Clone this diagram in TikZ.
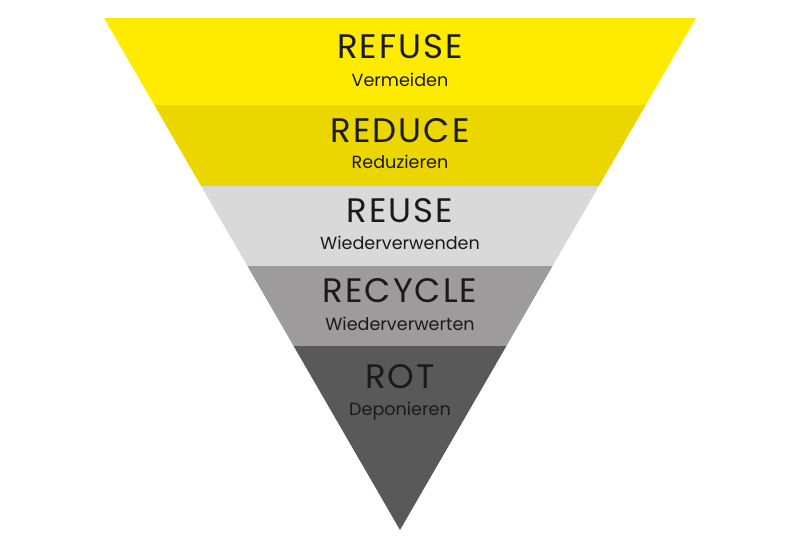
\documentclass[tikz,border=0pt]{standalone}
\usepackage{fontspec}
\setmainfont{Poppins}
\newfontfamily\titlefont[LetterSpace=6]{Poppins}
\usepackage{tikz}
\usetikzlibrary{positioning}

\definecolor{refuseyellow}{HTML}{FFEB00}
\definecolor{reduceyellow}{HTML}{EBD600}
\definecolor{reusegray}{HTML}{D9D9D9}
\definecolor{recyclegray}{HTML}{9D9B9C}
\definecolor{rotgray}{HTML}{595959}
\definecolor{labeltext}{HTML}{1A1A1A}

\tikzset{
  title/.style={anchor=base,text=labeltext,font=\titlefont\fontsize{29}{29}\selectfont},
  subtitle/.style={anchor=base,text=labeltext,font=\fontsize{15}{15}\selectfont}
}

\begin{document}
\begin{tikzpicture}[x=0.03cm,y=-0.03cm]
\useasboundingbox[fill=white] (0,0) rectangle (800,550);
% bands of the funnel, top to bottom
\fill[refuseyellow] (104,18) -- (696,18) -- (645.7,105) -- (154.3,105) -- cycle;
\fill[reduceyellow] (154.3,105) -- (645.7,105) -- (598.9,186) -- (201.1,186) -- cycle;
\fill[reusegray] (201.1,186) -- (598.9,186) -- (552.6,266) -- (247.4,266) -- cycle;
\fill[recyclegray] (247.4,266) -- (552.6,266) -- (506.4,346) -- (293.6,346) -- cycle;
\fill[rotgray] (293.6,346) -- (506.4,346) -- (400,530) -- cycle;
% labels
\node[title] (refuse) at (400,58) {REFUSE};
\node[subtitle] (vermeiden) at (400,86) {Vermeiden};
\node[title] (reduce) at (400,142) {REDUCE};
\node[subtitle] (reduzieren) at (400,168) {Reduzieren};
\node[title] (reuse) at (400,222) {REUSE};
\node[subtitle] (wiederverwenden) at (400,249) {Wiederverwenden};
\node[title] (recycle) at (400,302) {RECYCLE};
\node[subtitle] (wiederverwerten) at (400,330) {Wiederverwerten};
\node[title] (rot) at (400,388) {ROT};
\node[subtitle] (deponieren) at (400,415) {Deponieren};
\end{tikzpicture}
\end{document}
